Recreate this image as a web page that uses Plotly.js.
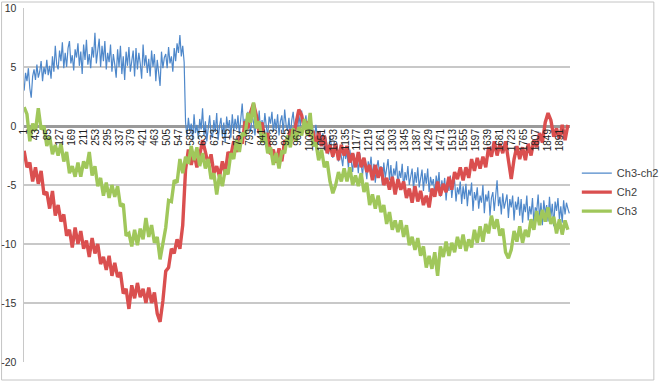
<!DOCTYPE html>
<html>
<head>
<meta charset="utf-8">
<script src="https://cdn.plot.ly/plotly-3.0.1.min.js"></script>
<style>
html,body{margin:0;padding:0;background:#fff;}
#chart{width:672px;height:382px;}
</style>
</head>
<body>
<div id="chart"></div>
<script>
// Series names
const seriesNames = ["Ch3-ch2", "Ch2", "Ch3"];

// Blue series sampled every 5th sample, red/green every 10th, starting at sample 1
const firstSample = 1;
const blueStep = 5;
const lineStep = 10;

// Ch3-ch2 (blue) values (samples 1, 6, 11, ...)
const ch3minusCh2 = [
  3.0, 4.5, 3.8, 4.9, 3.2, 2.4, 4.2, 4.8, 3.9, 5.2, 4.1, 4.6, 5.5, 3.8, 5.0, 4.4, 5.6, 4.3, 5.1, 4.0,
  5.9, 4.6, 6.8, 5.2, 4.8, 6.4, 5.5, 7.1, 4.9, 6.2, 5.0, 6.6, 7.2, 5.3, 6.0, 4.7, 6.5, 5.8, 7.0, 5.1,
  6.3, 4.4, 6.9, 5.6, 7.3, 5.2, 6.1, 4.9, 6.7, 5.8, 7.9, 5.3, 6.4, 7.4, 5.0, 6.8, 5.5, 7.2, 4.8, 6.2,
  5.4, 6.9, 4.6, 6.1, 5.2, 4.1, 6.5, 5.0, 6.8, 4.4, 5.9, 3.9, 6.3, 5.1, 6.7, 4.6, 5.5, 6.4, 4.2, 6.6,
  4.8, 6.2, 5.3, 4.0, 6.9, 5.1, 6.0, 4.5, 5.7, 4.2, 6.4, 5.0, 6.1, 3.8, 5.6, 4.7, 3.4, 6.3, 4.9, 5.8,
  6.1, 4.9, 6.7, 5.3, 5.9, 4.6, 6.6, 5.5, 7.0, 6.2, 7.7, 5.9, 6.8, 5.4,
  0.3, -0.9, 0.7, -0.4, 0.2, -1.2, 1.0, -0.6, 0.1, -1.1, 0.6, -0.3, 1.5, -0.8, 0.4, -1.3, 0.2, 0.9, -0.7, -1.0,
  0.5, -0.5, 1.1, -1.2, 0.0, 0.7, -0.9, 0.3, -1.4, 0.8, -0.2, 0.5, -1.0, 1.0, -0.4, 0.6,
  -0.3, 0.9, -0.7, 0.4, 1.9, -0.1, 0.6, -0.9, 1.2, 0.2, -0.5, 1.0, 0.3, -0.8, 0.7, -0.2, 1.3, -0.6, 0.5, -0.4,
  1.1, 0.0, -0.9, 0.8, 0.2, 1.2, -0.5, 0.6, -0.3, 1.0, -0.8, 0.4, 0.9, -0.6, 1.4, 0.1, -0.4, 0.7, -0.9, 0.5,
  1.2, -0.3, 0.6, -0.7, 1.0, 0.0, 1.3, -0.5, 0.4, 0.9,
  -0.4, 0.6, -0.8, 0.2, -0.3, -1.2, 0.1, -0.9, -1.6, -0.4, -1.3, -0.6, -2.0, -0.9, -1.5,
  -2.4, -0.8, -1.9, -2.7, -1.3, -2.2, -1.5, -3.0, -1.8, -2.5, -3.4, -1.9, -2.8, -2.2, -3.6, -2.0, -3.1, -3.9, -2.4, -3.3, -2.6, -4.0, -2.3, -3.5, -4.2,
  -2.7, -3.8, -4.5, -3.0, -3.6, -2.6, -4.3, -3.2, -4.8, -3.5, -2.9, -4.1, -3.4, -5.0, -3.1, -4.4, -3.7, -2.8, -4.6, -3.3,
  -4.9, -3.6, -4.2, -3.0, -5.1, -3.8, -4.4, -3.2, -5.3, -3.9, -4.6, -3.4, -5.0, -4.1, -3.6, -5.4, -3.9, -4.8, -3.5, -5.2,
  -4.2, -3.7, -5.5, -4.0, -4.9, -3.6, -5.6, -4.3, -5.0, -4.5,
  -5.8, -4.2, -5.1, -3.9, -6.0, -4.6, -5.4, -4.4, -6.3, -4.8, -5.5, -4.2, -6.1, -5.0, -4.6, -6.4, -5.2, -5.8, -4.7, -6.6,
  -5.1, -6.2, -4.9, -6.8, -5.4, -5.9, -4.8, -7.2, -5.6, -6.3,
  -5.2, -7.0, -5.9, -6.5, -5.0, -7.4, -5.8, -6.4, -5.5, -7.6, -6.1, -5.6, -7.2, -5.9, -4.6, -6.8, -6.0, -7.5, -5.7, -7.0,
  -6.3, -5.8, -7.8, -6.2, -6.9, -5.9, -8.0, -6.4, -7.1, -6.0,
  -7.6, -6.2, -8.2, -6.6, -7.3, -5.9, -8.0, -6.8, -7.5, -6.1, -8.3, -6.9, -7.2, -5.8, -7.9, -6.5, -8.4, -6.3, -7.4, -6.7,
  -8.1, -6.0, -7.7, -6.6, -8.5, -6.4, -7.2, -6.1, -7.9, -6.8, -8.2, -6.3, -7.5, -6.5, -7.0, -7.4
];

// Ch2 (red) values (samples 1, 11, 21, ...)
const ch2 = [
  -2.1, -3.5, -3.1, -4.7, -3.5, -4.9, -3.8, -5.8, -5.6, -7.0,
  -5.5, -7.6, -6.7, -8.1, -7.5, -9.3, -8.8, -10.3, -8.6, -10.0,
  -8.9, -10.4, -9.7, -11.1, -9.5, -10.8, -10.0, -11.7, -11.1, -12.2,
  -11.0, -12.7, -11.6, -12.8, -12.4, -14.2, -13.8, -15.5, -13.5, -14.6,
  -13.3, -14.5, -13.8, -15.0, -13.7, -15.0, -14.1, -15.9, -16.6, -14.8,
  -12.3, -12.0, -10.4, -10.8, -9.6, -10.4, -8.4, -3.7, -2.0, -3.3,
  -2.3, -3.5, -2.5, -1.2, -2.2, -3.3, -2.4, -4.0, -3.4, -4.3,
  -3.0, -4.0, -2.2, -2.5, -1.3, -2.2, -0.8, -1.5, 0.4, -0.2,
  1.2, 1.9, 0.9, -0.6, 0.3, -1.2, -0.6, -2.4, -2.0, -3.1,
  -1.9, -3.0, -1.2, -1.5, -0.3, -1.2, 0.2, 1.4, 0.9, -0.3,
  0.4, -0.9, -0.4, -1.7, -0.5, -1.7, -0.8, -2.3, -1.6, -2.6,
  -1.5, -2.9, -1.6, -2.5, -1.7, -3.1, -2.3, -3.5, -2.2, -3.5,
  -2.7, -3.9, -3.3, -4.6, -3.3, -4.4, -3.5, -5.0, -4.4, -5.4,
  -4.3, -5.8, -4.5, -5.4, -4.7, -6.1, -5.3, -6.5, -5.1, -6.4,
  -5.5, -6.7, -5.9, -6.9, -5.3, -6.0, -4.7, -5.9, -4.9, -5.6,
  -4.3, -5.4, -3.9, -4.5, -3.5, -4.6, -3.5, -4.4, -2.8, -3.8,
  -2.7, -3.6, -2.6, -3.5, -1.8, -2.6, -1.3, -2.5, -1.5, -2.3,
  -1.3, -3.1, -4.5, -2.8, -1.7, -2.8, -1.8, -2.9, -1.5, -2.5,
  -1.2, -1.8, -0.6, -1.4, 0.3, 1.1, 0.5, -0.9, -0.2, -1.1,
  0.1, -1.2, 0.1
];

// Ch3 (green) values (samples 1, 11, 21, ...)
const ch3 = [
  1.6, 1.0, -1.3, 0.2, -0.4, 1.5, -0.3, 0.0, -1.7, -0.9,
  -2.4, -1.6, -2.5, -1.5, -3.0, -2.2, -4.0, -3.4, -4.3, -3.1,
  -4.3, -3.0, -3.6, -2.2, -4.2, -3.4, -5.1, -4.4, -5.9, -4.8,
  -6.1, -5.0, -6.0, -5.1, -6.8, -6.6, -9.3, -9.1, -10.2, -8.8,
  -10.1, -8.7, -9.6, -7.8, -9.4, -8.4, -9.9, -9.4, -11.3, -9.9,
  -8.6, -6.3, -6.4, -4.6, -4.8, -2.8, -4.0, -2.6, -3.2, -1.7,
  -2.9, -1.8, -3.4, -2.3, -3.6, -2.8, -4.5, -4.0, -5.8, -4.1,
  -5.1, -3.7, -4.1, -2.3, -2.8, -1.2, -2.2, -0.6, -0.8, 1.1,
  0.3, 2.0, -0.2, 0.4, -1.4, -0.6, -2.3, -1.8, -3.3, -2.3,
  -3.6, -2.1, -2.3, -0.8, -1.8, -0.2, -1.3, -0.1, -0.8, 0.6,
  -0.8, 1.1, -1.7, -1.4, -2.9, -2.0, -3.5, -3.0, -4.7, -5.7,
  -5.0, -3.9, -4.7, -3.6, -4.7, -3.5, -5.0, -4.2, -5.1, -4.0,
  -5.6, -4.8, -6.7, -5.8, -7.0, -5.9, -7.3, -6.7, -8.3, -7.3,
  -8.8, -8.0, -9.0, -8.0, -9.4, -8.4, -10.1, -9.4, -10.5, -9.5,
  -11.0, -10.2, -12.0, -11.0, -12.1, -10.7, -12.7, -10.2, -11.1, -9.8,
  -11.0, -9.9, -10.7, -9.4, -10.4, -9.2, -10.6, -9.6, -10.3, -8.8,
  -9.9, -8.5, -9.8, -8.3, -9.1, -7.6, -8.7, -7.9, -9.3, -8.7,
  -10.7, -11.2, -10.5, -8.9, -9.8, -8.5, -9.9, -8.8, -9.4, -7.9,
  -8.8, -7.2, -8.4, -7.1, -8.1, -6.9, -8.3, -7.7, -9.1, -7.9,
  -9.2, -8.0, -8.8
];

// Category tick labels shown on the horizontal axis
const xTickLabels = ["1","43","85","127","169","211","253","295","337","379","421","463","505","547","589","631","673","715","757","799","841","883","925","967","1009","1051","1093","1135","1177","1219","1261","1303","1345","1387","1429","1471","1513","1555","1597","1639","1681","1723","1765","1807","1849","1891"];
const totalSamples = 1928;

// Value axis tick labels
const yTickLabels = ["10","5","0","-5","-10","-15","-20"];

const blueX = ch3minusCh2.map((_, k) => firstSample + k * blueStep);
const lineX = ch3.map((_, k) => firstSample + k * lineStep);

const colors = ["#4F88CA", "#DA4F4F", "#A0C75B"];
const widths = [1.2, 3.4, 3.4];
const seriesData = [ch3minusCh2, ch2, ch3];
const seriesX = [blueX, lineX, lineX];

const traces = seriesData.map((ys, i) => ({
  type: "scatter",
  mode: "lines",
  name: seriesNames[i],
  x: seriesX[i],
  y: ys,
  line: {color: colors[i], width: widths[i]},
  hoverinfo: "skip"
}));

const font = "Liberation Sans, Arial, sans-serif";

const layout = {
  width: 672,
  height: 382,
  margin: {l: 24, r: 88, t: 8, b: 20, pad: 0},
  paper_bgcolor: "#ffffff",
  plot_bgcolor: "#ffffff",
  showlegend: true,
  legend: {
    x: 1.0125, xanchor: "left",
    y: 0.48, yanchor: "middle",
    font: {family: font, size: 11, color: "#404040"},
    bgcolor: "rgba(0,0,0,0)",
    tracegroupgap: 0
  },
  xaxis: {
    range: [0.5, totalSamples + 0.5],
    tickmode: "array",
    tickvals: xTickLabels.map(Number),
    ticktext: xTickLabels,
    tickangle: -90,
    tickfont: {family: font, size: 10, color: "#222"},
    showgrid: false,
    zeroline: false,
    showline: false,
    ticks: "",
    anchor: "free",
    position: 20 / 30,
    fixedrange: true
  },
  yaxis: {
    range: [-20, 10],
    domain: [0, 1],
    tickmode: "array",
    tickvals: yTickLabels.map(Number),
    ticktext: yTickLabels,
    tickfont: {family: font, size: 10.5, color: "#333"},
    showgrid: true,
    gridcolor: "#c8c8c8",
    gridwidth: 1.5,
    zeroline: true,
    zerolinecolor: "#9a9a9a",
    zerolinewidth: 3,
    showline: true,
    linecolor: "#c8c8c8",
    linewidth: 1.5,
    ticks: "",
    ticklabelstandoff: 4,
    fixedrange: true
  },
  shapes: [
    {type: "rect", xref: "paper", yref: "paper",
     x0: -23/560, x1: 646/560, y0: -18/354, y1: 360/354,
     line: {color: "#c4c4c4", width: 1}, fillcolor: "rgba(0,0,0,0)", layer: "below"}
  ]
};

Plotly.newPlot("chart", traces, layout, {staticPlot: true, displayModeBar: false});
</script>
</body>
</html>
